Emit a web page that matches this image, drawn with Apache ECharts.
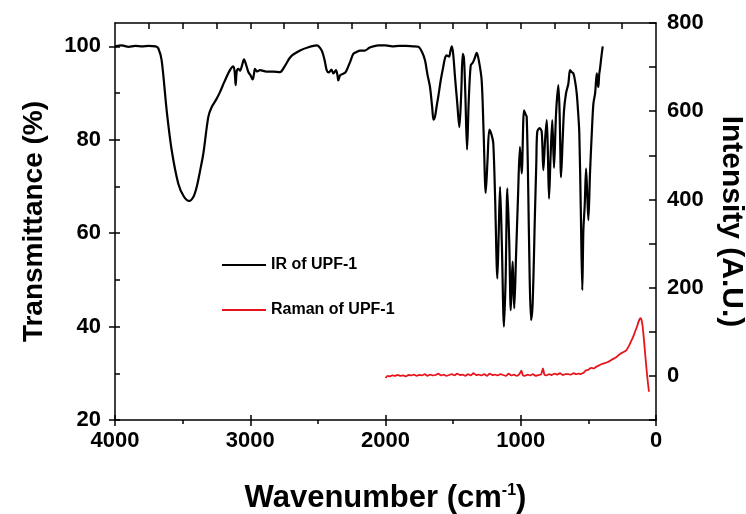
<!DOCTYPE html>
<html>
<head>
<meta charset="utf-8">
<script src="https://cdn.jsdelivr.net/npm/echarts@6/dist/echarts.min.js"></script>
<style>html,body{margin:0;padding:0;background:#fff;overflow:hidden;width:746px;height:514px}#c{width:746px;height:514px}</style>
</head>
<body>
<div id="c"></div>
<script>
// IR spectrum (wavenumber cm-1, transmittance %)
var irX = [4000,3950,3900,3850,3800,3750,3700,3680,3655,3618,3581,3532,3490,3451,3420,3396,3370,3347,3310,3285,3250,3224,3190,3150,3125,3115,3108,3100,3088,3075,3060,3046,3030,3014,2998,2982,2973,2965,2950,2928,2880,2830,2780,2740,2700,2632,2570,2509,2472,2450,2435,2420,2400,2385,2366,2355,2349,2335,2300,2287,2260,2238,2213,2189,2152,2120,2090,2050,2000,1950,1900,1850,1800,1758,1730,1708,1690,1671,1655,1645,1635,1620,1610,1590,1573,1560,1548,1530,1520,1510,1500,1486,1470,1454,1440,1429,1420,1410,1397,1385,1370,1355,1340,1326,1310,1289,1275,1259,1245,1232,1215,1203,1190,1173,1163,1153,1140,1124,1112,1099,1085,1074,1066,1060,1054,1048,1035,1020,1006,993,976,965,956,945,935,924,912,895,885,878,860,845,833,820,808,800,791,780,767,754,739,722,712,702,690,680,665,648,636,624,611,598,586,576,567,556,545,537,527,517,508,500,488,475,463,450,438,431,426,420,414,405,394];
var irY = [100,100.2,99.9,100.1,100,100.1,100,99.6,97.0,86.3,77.8,70.6,67.8,66.9,67.8,69.9,73.5,77.0,84.9,87.0,88.7,90.2,92.5,94.9,95.7,94.5,91.7,94.6,95.2,94.8,96.0,97.2,96.0,94.5,93.8,92.9,94.0,95.2,94.6,94.9,94.6,94.6,94.5,96.0,97.8,99.1,99.8,100.2,99.1,97.0,94.9,94.4,95.0,94.2,94.9,93.8,92.7,93.8,94.3,94.9,96.8,98.4,98.8,99.1,99.1,99.7,100,100.2,100.2,100,100.1,100.1,100,99.9,98.8,97.0,94.0,91.3,87.0,84.3,84.8,87.5,89.2,93.0,95.6,97.5,98.1,97.8,99.0,100,98.5,93.4,88.0,82.7,90.0,98.4,97.5,90.0,77.9,88.0,95.9,96.5,97.5,98.6,97.0,92.7,82.0,68.6,76.0,82.2,81.0,79.2,68.0,50.3,60.0,69.9,58.0,40.0,50.0,69.6,58.0,43.5,50.0,53.9,48.0,43.9,55.0,68.0,78.5,72.8,86.3,85.5,84.9,70.0,52.0,41.4,45.0,64.2,75.0,81.7,82.5,81.7,73.5,80.0,84.2,78.0,67.4,76.0,84.2,74.0,85.6,91.7,85.0,72.0,80.0,86.3,90.0,92.0,94.9,94.5,94.2,92.5,89.9,86.0,81.4,65.0,47.8,60.6,66.0,73.8,68.0,62.8,72.8,81.3,87.7,90.0,94.2,92.0,91.3,94.0,95.2,97.5,100];
// Raman spectrum (wavenumber cm-1, intensity A.U.)
var ramanX = [2000,1985,1970,1950,1930,1910,1890,1870,1850,1830,1810,1790,1770,1750,1730,1710,1690,1670,1650,1630,1610,1590,1570,1550,1530,1510,1490,1470,1450,1430,1410,1390,1370,1350,1330,1310,1290,1270,1250,1230,1210,1190,1170,1150,1130,1110,1090,1070,1050,1030,1010,995,985,970,950,930,910,890,870,850,836,825,810,790,770,750,730,710,690,670,650,630,610,590,570,555,545,535,520,500,480,460,440,420,400,380,360,340,320,300,280,260,240,220,200,185,170,155,140,130,120,115,108,100,90,80,70,60,52];
var ramanY = [-5,0,-1,1,0,2,0,1,-1,2,1,3,0,2,1,4,0,3,1,2,5,1,3,0,2,4,1,5,2,3,0,4,1,6,2,3,1,4,0,5,2,3,1,4,2,0,5,1,3,0,4,12,2,0,3,1,4,0,2,3,17,3,1,4,2,5,3,6,2,4,4,3,6,4,5,4,6,7,12,14,18,17,21,24,27,29,31,34,38,41,46,51,54,58,68,78,88,100,112,122,129,131,128,115,85,50,15,-15,-36];
var xTicks = [0,1000,2000,3000,4000];
var xTopTicks = [250,500,750,1000,1250,1500,1750,2000,2250,2500,2750,3000,3250,3500,3750];
var leftLabels = [20,40,60,80,100];
var leftMinor = [20,30,40,50,60,70,80,90,100];
var rightLabels = [0,200,400,600,800];
var rightTicks = [-100,0,100,200,300,400,500,600,700,800];

function pairs(xs, ys){ var o=[]; for (var i=0;i<xs.length;i++) o.push([xs[i], ys[i]]); return o; }
function plain(v){ return String(v); }

var FF = '"Liberation Sans", Arial, sans-serif';
var lab = {fontFamily: FF, fontWeight: 'bold', fontSize: 22, color: '#000', formatter: plain};
var line = {show: true, onZero: false, lineStyle: {color: '#000', width: 1.5}};

var chart = echarts.init(document.getElementById('c'), null, {renderer: 'canvas', width: 746, height: 514});
chart.setOption({
  animation: false,
  backgroundColor: '#fff',
  grid: {left: 115, right: 90, top: 23, bottom: 94, containLabel: false, outerBoundsMode: 'none'},
  legend: {
    orient: 'vertical', left: 217, top: 251, itemWidth: 44, itemHeight: 2, itemGap: 27, icon: 'rect',
    textStyle: {fontFamily: FF, fontWeight: 'bold', fontSize: 16, color: '#000', lineHeight: 18},
    data: ['IR of UPF-1', 'Raman of UPF-1']
  },
  xAxis: [
    {type: 'value', position: 'bottom', min: 0, max: 4000, interval: 1000, inverse: true,
     axisLine: line, splitLine: {show: false},
     axisTick: {show: true, inside: false, length: 6, lineStyle: {color: '#000', width: 1.5}},
     minorTick: {show: true, splitNumber: 2, length: 4, lineStyle: {color: '#000', width: 1.5}},
     axisLabel: Object.assign({margin: 10}, lab),
     name: '{a|Wavenumber (cm}{s|-1}{a|)}', nameLocation: 'middle', nameGap: 63,
     nameTextStyle: {rich: {
       a: {fontFamily: FF, fontWeight: 'bold', fontSize: 31, color: '#000'},
       s: {fontFamily: FF, fontWeight: 'bold', fontSize: 16, color: '#000', padding: [0,0,15,0]}
     }}},
    {type: 'value', position: 'bottom', min: 0, max: 4000, inverse: true,
     axisLine: {show: false, onZero: false}, splitLine: {show: false}, axisLabel: {show: false},
     axisTick: {show: true, inside: true, length: 5, customValues: xTicks, lineStyle: {color: '#000', width: 1.5}}},
    {type: 'value', position: 'top', min: 0, max: 4000, inverse: true,
     axisLine: line, splitLine: {show: false}, axisLabel: {show: false},
     axisTick: {show: true, inside: true, length: 6, customValues: xTopTicks, lineStyle: {color: '#000', width: 1.5}}}
  ],
  yAxis: [
    {type: 'value', position: 'left', min: 20, max: 105,
     axisLine: line, splitLine: {show: false},
     axisTick: {show: true, inside: false, length: 6, customValues: leftLabels, lineStyle: {color: '#000', width: 1.5}},
     axisLabel: Object.assign({margin: 14, customValues: leftLabels}, lab),
     name: 'Transmittance (%)', nameLocation: 'middle', nameGap: 67,
     nameTextStyle: {fontFamily: FF, fontWeight: 'bold', fontSize: 28, color: '#000'}},
    {type: 'value', position: 'right', min: -100, max: 800,
     axisLine: line, splitLine: {show: false},
     axisTick: {show: true, inside: true, length: 7, customValues: rightTicks, lineStyle: {color: '#000', width: 1.5}},
     axisLabel: Object.assign({margin: 11, customValues: rightLabels}, lab),
     name: 'Intensity (A.U.)', nameLocation: 'middle', nameGap: 60, nameRotate: -90,
     nameTextStyle: {fontFamily: FF, fontWeight: 'bold', fontSize: 30, color: '#000'}},
    {type: 'value', position: 'left', min: 20, max: 105,
     axisLine: {show: false, onZero: false}, splitLine: {show: false}, axisLabel: {show: false},
     axisTick: {show: true, inside: true, length: 5, customValues: leftMinor, lineStyle: {color: '#000', width: 1.5}}}
  ],
  series: [
    {name: 'IR of UPF-1', type: 'line', xAxisIndex: 0, yAxisIndex: 0, data: pairs(irX, irY),
     symbol: 'none', smooth: 0.3, lineStyle: {color: '#000', width: 2.2}, itemStyle: {color: '#000'}},
    {name: 'Raman of UPF-1', type: 'line', xAxisIndex: 0, yAxisIndex: 1, data: pairs(ramanX, ramanY),
     symbol: 'none', smooth: 0.2, lineStyle: {color: '#e8141c', width: 1.8}, itemStyle: {color: '#e8141c'}}
  ]
});
</script>
</body>
</html>
